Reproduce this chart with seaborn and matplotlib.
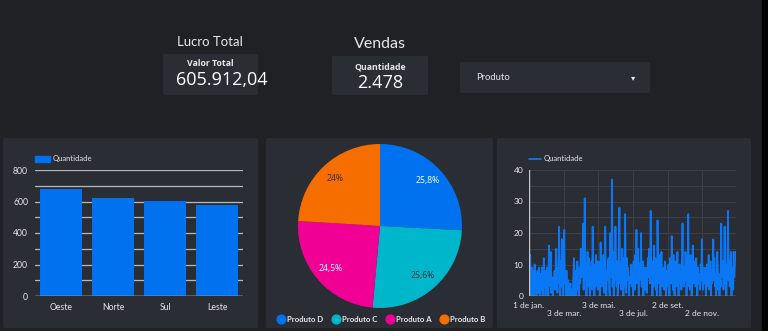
import numpy as np
import pandas as pd
import matplotlib
matplotlib.use("Agg")
import matplotlib.pyplot as plt
import seaborn as sns
from matplotlib.patches import FancyBboxPatch, Rectangle, Patch
from matplotlib.lines import Line2D

# ---------------- data ----------------
regions = ["Oeste", "Norte", "Sul", "Leste"]
region_qty = [680, 620, 603, 575]

products = ["Produto D", "Produto C", "Produto A", "Produto B"]
product_share = [25.8, 25.6, 24.5, 24.0]
product_labels = ["25,8%", "25,6%", "24,5%", "24%"]

jan = [15, 7, 13, 4, 0, 9, 2, 8, 0, 6, 10, 3, 7, 0, 5, 8, 1, 6, 9, 0, 4, 7, 2, 9, 0, 5, 12, 3, 8, 0, 6]
feb = [2, 9, 5, 0, 16, 7, 3, 14, 1, 6, 4, 0, 6, 3, 8, 2, 10, 15, 5, 1, 9, 4, 22, 6, 0, 11, 3, 18]
mar = [5, 0, 10, 21, 4, 7, 0, 8, 2, 0, 5, 1, 0, 3, 4, 0, 2, 0, 1, 6, 12, 0, 3, 8, 0, 5, 11, 2, 9, 0, 7]
apr = [4, 15, 9, 6, 11, 23, 2, 8, 31, 5, 10, 0, 7, 14, 3, 12, 6, 0, 9, 4, 11, 2, 22, 5, 8, 0, 10, 3, 13, 7]
may = [9, 2, 11, 5, 8, 0, 17, 6, 10, 3, 7, 13, 1, 9, 22, 4, 0, 8, 5, 11, 12, 2, 0, 20, 9, 6, 37, 3, 14, 0, 12]
jun = [5, 22, 8, 3, 11, 0, 6, 18, 28, 4, 9, 2, 10, 15, 7, 0, 12, 3, 26, 8, 1, 12, 5, 9, 7, 0, 6, 4, 5, 10]
jul = [3, 8, 0, 11, 6, 2, 13, 9, 21, 4, 7, 15, 0, 10, 5, 8, 20, 3, 6, 11, 0, 4, 9, 2, 7, 9, 1, 5, 12, 6, 15]
aug = [9, 4, 27, 6, 11, 0, 8, 3, 16, 5, 12, 2, 7, 0, 24, 9, 4, 13, 6, 0, 10, 14, 3, 8, 5, 9, 2, 11, 7, 0, 6]
sep = [8, 3, 10, 5, 0, 12, 7, 4, 19, 9, 2, 13, 6, 0, 11, 8, 3, 7, 14, 5, 0, 9, 10, 4, 6, 2, 12, 23, 7, 3]
oct_ = [9, 5, 14, 12, 0, 8, 3, 26, 6, 10, 2, 13, 7, 0, 9, 16, 4, 11, 5, 8, 3, 12, 6, 0, 9, 4, 5, 7, 2, 10, 5]
nov = [18, 6, 2, 9, 4, 8, 9, 0, 5, 10, 3, 7, 13, 2, 6, 11, 0, 8, 4, 9, 18, 5, 12, 3, 7, 0, 6, 14, 9, 2]
dec = [5, 0, 7, 3, 23, 6, 9, 11, 2, 8, 22, 4, 10, 0, 6, 13, 27, 5, 9, 3, 11, 14, 0, 7, 9, 2, 14, 6, 10, 14, 14]
daily_qty = jan + feb + mar + apr + may + jun + jul + aug + sep + oct_ + nov + dec

date_ticks = [0, 61, 122, 183, 244, 305]
date_labels = ["1 de jan.", "3 de mar.", "3 de mai.", "3 de jul.", "2 de set.", "2 de nov."]

kpi_lucro = "605.912,04"
kpi_vendas = "2.478"

# ---------------- style ----------------
sns.set_style("dark")
plt.rcParams["font.family"] = ["Lato", "DejaVu Sans"]

BG = "#202124"
PANEL = "#2b2d35"
BLUE = "#0072f0"
pie_colors = ["#0072f0", "#00b6cb", "#f10096", "#f66d00"]
TXT = "#e8e8e8"

W, H = 768, 331
fig = plt.figure(figsize=(W / 100, H / 100), dpi=100, facecolor=BG)


def ax_px(x0, y0, x1, y1, **kw):
    return fig.add_axes([x0 / W, 1 - y1 / H, (x1 - x0) / W, (y1 - y0) / H], **kw)


# background canvas in pixel coords
bg = ax_px(0, 0, W, H)
bg.set_xlim(0, W)
bg.set_ylim(H, 0)
bg.axis("off")
bg.set_zorder(-10)
bg.add_patch(Rectangle((762, 0), 6, H, color="black"))


def box(x0, y0, x1, y1, color=PANEL, r=2):
    bg.add_patch(FancyBboxPatch((x0, y0), x1 - x0, y1 - y0,
                                boxstyle=f"round,pad=0,rounding_size={r}",
                                fc=color, ec="none"))


# panels
box(3, 138, 258, 328)
box(266, 138, 493, 328)
box(497, 138, 751, 328)

# KPI cards
bg.text(210, 42, "Lucro Total", ha="center", va="center", color=TXT, fontsize=9.5,
        family=["Lato", "DejaVu Sans"])
box(163, 54, 258, 95)
bg.text(210, 64, "Valor Total", ha="center", va="center", color=TXT, fontsize=6.3,
        family=["Open Sans", "DejaVu Sans"], fontweight="bold")
bg.text(222, 80, kpi_lucro, ha="center", va="center", color="white", fontsize=13,
        family=["Open Sans", "DejaVu Sans"])

bg.text(380, 44, "Vendas", ha="center", va="center", color=TXT, fontsize=11.5,
        family=["Lato", "DejaVu Sans"])
box(332, 56, 428, 95)
bg.text(380, 67, "Quantidade", ha="center", va="center", color=TXT, fontsize=6.3,
        family=["Open Sans", "DejaVu Sans"], fontweight="bold")
bg.text(380, 83, kpi_vendas, ha="center", va="center", color="white", fontsize=13,
        family=["Open Sans", "DejaVu Sans"])

box(460, 62, 650, 93)
bg.text(476, 78, "Produto", ha="left", va="center", color=TXT, fontsize=6.8,
        family=["Lato", "DejaVu Sans"])
bg.text(633, 78, "▾", ha="center", va="center", color=TXT, fontsize=6,
        family=["DejaVu Sans"])

# ---------------- bar chart ----------------
bar_df = pd.DataFrame({"Regiao": regions, "Quantidade": region_qty})
axb = ax_px(35, 170, 243, 296)
axb.set_facecolor(PANEL)
sns.barplot(data=bar_df, x="Regiao", y="Quantidade", color=BLUE, width=0.8,
            saturation=1, ax=axb, zorder=3, edgecolor="none", linewidth=0)
axb.set_ylim(0, 800)
axb.set_xlim(-0.5, 3.5)
axb.set_yticks([0, 200, 400, 600, 800])
axb.set_yticks([100, 300, 500, 700], minor=True)
axb.grid(True, axis="y", which="both", color="#b8b8b8", lw=0.9, zorder=0)
axb.grid(False, axis="x")
axb.set_axisbelow(True)
axb.set_xlabel("")
axb.set_ylabel("")
for s in axb.spines.values():
    s.set_visible(False)
axb.tick_params(axis="both", which="both", length=0, colors=TXT, labelsize=6.2, pad=5)
axb.axhline(0, color="#dcdcdc", lw=1, zorder=4)
leg = axb.legend(handles=[Patch(color=BLUE, label="Quantidade")],
                 loc="lower left", bbox_to_anchor=(0.0, 1.06), frameon=False,
                 fontsize=5.5, handlelength=1.9, handleheight=0.9, handletextpad=0.4,
                 borderaxespad=0, borderpad=0)
for t in leg.get_texts():
    t.set_color(TXT)

# ---------------- pie chart ----------------
axp = ax_px(298, 144, 462, 308)
wedges, _ = axp.pie(product_share, colors=pie_colors, startangle=90,
                    counterclock=False, radius=1,
                    wedgeprops=dict(linewidth=0))
axp.set_xlim(-1, 1)
axp.set_ylim(-1, 1)
axp.set_aspect("equal")
label_colors = ["white", "#2b2d35", "white", "#2b2d35"]
for w, lab, c in zip(wedges, product_labels, label_colors):
    ang = np.deg2rad((w.theta1 + w.theta2) / 2)
    axp.text(0.8 * np.cos(ang), 0.8 * np.sin(ang), lab, ha="center", va="center",
             color=c, fontsize=6.2, family=["Open Sans", "DejaVu Sans"])
handles = [Line2D([], [], marker="o", ls="", markersize=6.3, markerfacecolor=c,
                  markeredgecolor=c, label=p) for p, c in zip(products, pie_colors)]
pleg = fig.legend(handles=handles, loc="center", bbox_to_anchor=(381 / W, 1 - 319 / H),
                  ncol=4, frameon=False, fontsize=5.6, handletextpad=0.2,
                  columnspacing=1.1, borderpad=0, handlelength=1.1)
for t in pleg.get_texts():
    t.set_color(TXT)
    t.set_fontweight("bold")

# ---------------- line chart ----------------
line_df = pd.DataFrame({"Dia": np.arange(len(daily_qty)), "Quantidade": daily_qty})
axl = ax_px(529, 170, 736, 296)
axl.set_facecolor(PANEL)
sns.lineplot(data=line_df, x="Dia", y="Quantidade", color="#0a78f5", lw=1.3, ax=axl,
             label="Quantidade", zorder=3)
axl.set_xlim(0, len(daily_qty) - 1)
axl.set_ylim(0, 40)
axl.set_yticks([0, 10, 20, 30, 40])
axl.set_yticks([5, 15, 25, 35], minor=True)
axl.set_xticks(date_ticks)
axl.set_xticklabels([lab if i % 2 == 0 else "\n" + lab for i, lab in enumerate(date_labels)])
axl.grid(True, which="both", color="#3c3f48", lw=0.8, zorder=0)
axl.grid(False, axis="x", which="minor")
axl.set_xlabel("")
axl.set_ylabel("")
for k, s in axl.spines.items():
    s.set_visible(False)
axl.axvline(0, color="#c8c8c8", lw=1, zorder=4)
axl.axhline(0, color="#9a9a9a", lw=1, zorder=4)
axl.tick_params(axis="both", which="both", length=0, colors=TXT, labelsize=6, pad=4)
for lab in axl.get_xticklabels() + axl.get_yticklabels():
    lab.set_family(["Lato", "DejaVu Sans"])
lleg = axl.legend(loc="lower left", bbox_to_anchor=(0.0, 1.06), frameon=False,
                  fontsize=5.5, handlelength=1.6, handletextpad=0.3,
                  borderaxespad=0, borderpad=0)
for t in lleg.get_texts():
    t.set_color(TXT)

fig.savefig("out.png", dpi=100, facecolor=BG)
